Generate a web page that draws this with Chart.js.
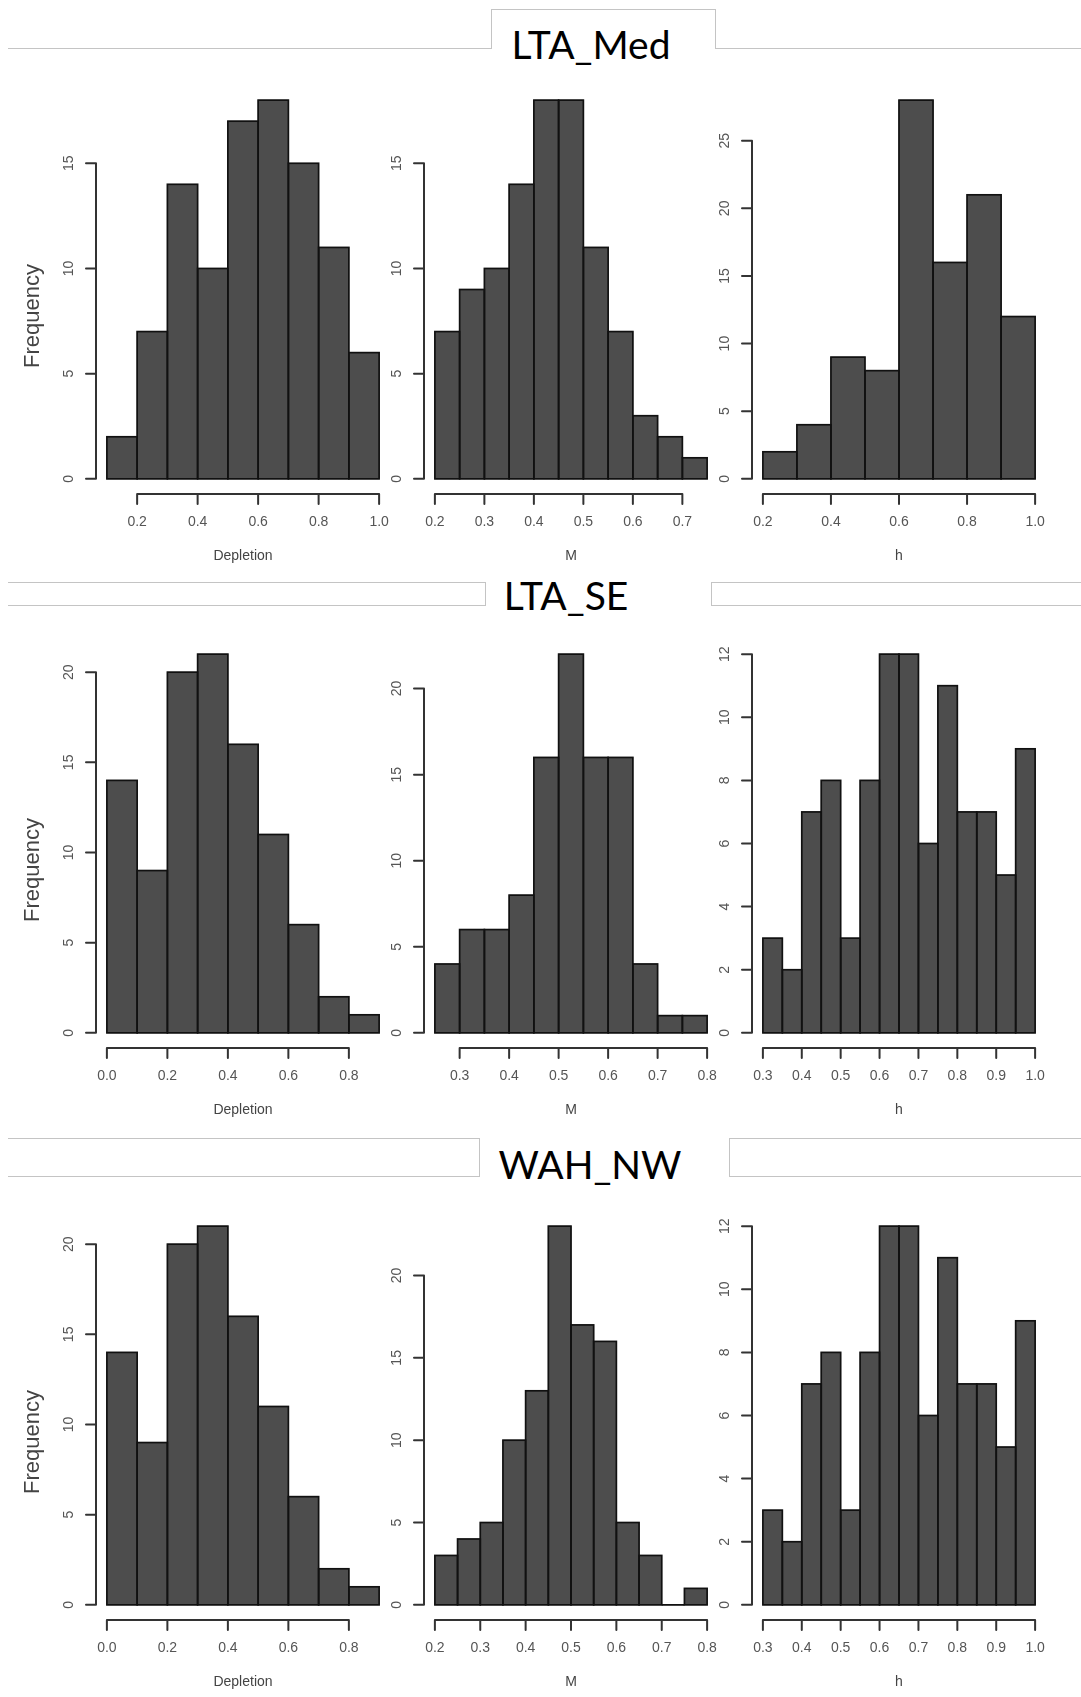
<!DOCTYPE html>
<html>
<head>
<meta charset="utf-8">
<title>Histograms</title>
<script src="https://cdn.jsdelivr.net/npm/chart.js@4.4.0/dist/chart.umd.min.js"></script>
<style>
	body { margin: 0; background: #fff; width: 1081px; height: 1697px; position: relative; overflow: hidden; }
	canvas { position: absolute; }
	.rule { position: absolute; box-sizing: border-box; border: 0 solid #c4c4c4; }
	.head { position: absolute; width: 400px; text-align: center; font-family: Lato, "Open Sans", sans-serif; font-size: 39px; line-height: 39px; color: #000; }
</style>
</head>
<body>

<!-- LTA_Med header (tab) -->
<div class="rule" style="left:8px;top:48px;width:484px;height:1px;border-top-width:1px"></div>
<div class="rule" style="left:491px;top:9px;width:225px;height:40px;border-top-width:1px;border-left-width:1px;border-right-width:1px"></div>
<div class="rule" style="left:715px;top:48px;width:366px;height:1px;border-top-width:1px"></div>
<div class="head" style="left:391px;top:25px">LTA_Med</div>

<!-- LTA_SE header -->
<div class="rule" style="left:8px;top:582px;width:478px;height:24px;border-top-width:1px;border-right-width:1px;border-bottom-width:1px"></div>
<div class="rule" style="left:711px;top:582px;width:370px;height:24px;border-top-width:1px;border-left-width:1px;border-bottom-width:1px"></div>
<div class="head" style="left:366px;top:576px">LTA_SE</div>

<!-- WAH_NW header -->
<div class="rule" style="left:8px;top:1138px;width:472px;height:39px;border-top-width:1px;border-right-width:1px;border-bottom-width:1px"></div>
<div class="rule" style="left:729px;top:1138px;width:352px;height:39px;border-top-width:1px;border-left-width:1px;border-bottom-width:1px"></div>
<div class="head" style="left:390px;top:1145px">WAH_NW</div>

<canvas id="medDep" width="400" height="510" style="left:0px;top:65px"></canvas>
<canvas id="medM" width="400" height="510" style="left:328px;top:65px"></canvas>
<canvas id="medH" width="400" height="510" style="left:656px;top:65px"></canvas>
<canvas id="seDep" width="400" height="510" style="left:0px;top:619px"></canvas>
<canvas id="seM" width="400" height="510" style="left:328px;top:619px"></canvas>
<canvas id="seH" width="400" height="510" style="left:656px;top:619px"></canvas>
<canvas id="nwDep" width="400" height="510" style="left:0px;top:1191px"></canvas>
<canvas id="nwM" width="400" height="510" style="left:328px;top:1191px"></canvas>
<canvas id="nwH" width="400" height="510" style="left:656px;top:1191px"></canvas>

<script>
// LTA_Med
var medDepEdges = [0.1, 0.2, 0.3, 0.4, 0.5, 0.6, 0.7, 0.8, 0.9, 1.0];
var medDepCounts = [2, 7, 14, 10, 17, 18, 15, 11, 6];
var medMEdges = [0.2, 0.25, 0.3, 0.35, 0.4, 0.45, 0.5, 0.55, 0.6, 0.65, 0.7, 0.75];
var medMCounts = [7, 9, 10, 14, 18, 18, 11, 7, 3, 2, 1];
var medHEdges = [0.2, 0.3, 0.4, 0.5, 0.6, 0.7, 0.8, 0.9, 1.0];
var medHCounts = [2, 4, 9, 8, 28, 16, 21, 12];

// LTA_SE
var seDepEdges = [0.0, 0.1, 0.2, 0.3, 0.4, 0.5, 0.6, 0.7, 0.8, 0.9];
var seDepCounts = [14, 9, 20, 21, 16, 11, 6, 2, 1];
var seMEdges = [0.25, 0.3, 0.35, 0.4, 0.45, 0.5, 0.55, 0.6, 0.65, 0.7, 0.75, 0.8];
var seMCounts = [4, 6, 6, 8, 16, 22, 16, 16, 4, 1, 1];
var seHEdges = [0.3, 0.35, 0.4, 0.45, 0.5, 0.55, 0.6, 0.65, 0.7, 0.75, 0.8, 0.85, 0.9, 0.95, 1.0];
var seHCounts = [3, 2, 7, 8, 3, 8, 12, 12, 6, 11, 7, 7, 5, 9];

// WAH_NW
var nwDepEdges = [0.0, 0.1, 0.2, 0.3, 0.4, 0.5, 0.6, 0.7, 0.8, 0.9];
var nwDepCounts = [14, 9, 20, 21, 16, 11, 6, 2, 1];
var nwMEdges = [0.2, 0.25, 0.3, 0.35, 0.4, 0.45, 0.5, 0.55, 0.6, 0.65, 0.7, 0.75, 0.8];
var nwMCounts = [3, 4, 5, 10, 13, 23, 17, 16, 5, 3, 0, 1];
var nwHEdges = [0.3, 0.35, 0.4, 0.45, 0.5, 0.55, 0.6, 0.65, 0.7, 0.75, 0.8, 0.85, 0.9, 0.95, 1.0];
var nwHCounts = [3, 2, 7, 8, 3, 8, 12, 12, 6, 11, 7, 7, 5, 9];

// tick labels
var medDepXTicks = [0.2, 0.4, 0.6, 0.8, 1.0];
var medMXTicks = [0.2, 0.3, 0.4, 0.5, 0.6, 0.7];
var medHXTicks = [0.2, 0.4, 0.6, 0.8, 1.0];
var seDepXTicks = [0.0, 0.2, 0.4, 0.6, 0.8];
var seMXTicks = [0.3, 0.4, 0.5, 0.6, 0.7, 0.8];
var hXTicks = [0.3, 0.4, 0.5, 0.6, 0.7, 0.8, 0.9, 1.0];
var nwMXTicks = [0.2, 0.3, 0.4, 0.5, 0.6, 0.7, 0.8];

var yTicks15 = [0, 5, 10, 15];
var yTicks20 = [0, 5, 10, 15, 20];
var yTicks25 = [0, 5, 10, 15, 20, 25];
var yTicks12 = [0, 2, 4, 6, 8, 10, 12];

var LABEL_FONT = "'Liberation Sans', Arial, sans-serif";

function makeHist(id, edges, counts, xTicks, yTicks, xTitle, yTitle) {
	var lo = edges[0];
	var hi = edges[edges.length - 1];
	var pad = (hi - lo) * 0.04;
	var top = Math.max.apply(null, counts);
	var points = counts.map(function (c, i) {
		return { x: (edges[i] + edges[i + 1]) / 2, y: c };
	});

	return new Chart(document.getElementById(id), {
		type: "bar",
		data: {
			datasets: [
				{
					data: points,
					backgroundColor: "#4d4d4d",
					borderWidth: 0,
					barPercentage: 1,
					categoryPercentage: 1,
				},
			],
		},
		options: {
			responsive: false,
			animation: false,
			devicePixelRatio: 1,
			layout: { padding: { left: 96, right: 10, top: 20, bottom: 81 } },
			plugins: { legend: { display: false }, tooltip: { enabled: false } },
			scales: {
				x: { type: "linear", min: lo - pad, max: hi + pad, offset: false, display: false },
				y: { type: "linear", min: -top * 0.04, max: top * 1.04, display: false },
			},
		},
		plugins: [
			{
				id: "rStyle",
				afterDatasetsDraw: function (chart) {
					// outline every bin like R's rect()
					var c = chart.ctx;
					c.save();
					c.strokeStyle = "#111";
					c.lineWidth = 1.7;
					chart.getDatasetMeta(0).data.forEach(function (bar) {
						var p = bar.getProps(["x", "y", "base", "width"], true);
						c.strokeRect(p.x - p.width / 2, p.y, p.width, p.base - p.y);
					});
					c.restore();
				},
				afterDraw: function (chart) {
					var c = chart.ctx;
					var xs = chart.scales.x;
					var ys = chart.scales.y;
					var a = chart.chartArea;
					c.save();
					c.strokeStyle = "#333";
					c.lineWidth = 2;
					c.lineCap = "round";
					c.beginPath();
					// y axis
					c.moveTo(a.left, ys.getPixelForValue(yTicks[0]));
					c.lineTo(a.left, ys.getPixelForValue(yTicks[yTicks.length - 1]));
					yTicks.forEach(function (v) {
						var py = ys.getPixelForValue(v);
						c.moveTo(a.left - 10, py);
						c.lineTo(a.left, py);
					});
					// x axis
					c.moveTo(xs.getPixelForValue(xTicks[0]), a.bottom);
					c.lineTo(xs.getPixelForValue(xTicks[xTicks.length - 1]), a.bottom);
					xTicks.forEach(function (v) {
						var px = xs.getPixelForValue(v);
						c.moveTo(px, a.bottom);
						c.lineTo(px, a.bottom + 10);
					});
					c.stroke();

					c.fillStyle = "#555";
					c.font = "14px " + LABEL_FONT;
					c.textAlign = "center";
					c.textBaseline = "middle";
					xTicks.forEach(function (v) {
						c.fillText(v.toFixed(1), xs.getPixelForValue(v), a.bottom + 28);
					});
					yTicks.forEach(function (v) {
						c.save();
						c.translate(a.left - 27, ys.getPixelForValue(v));
						c.rotate(-Math.PI / 2);
						c.fillText(String(v), 0, 0);
						c.restore();
					});

					c.fillStyle = "#444";
					c.fillText(xTitle, (a.left + a.right) / 2, a.bottom + 62);
					if (yTitle) {
						c.font = "22px " + LABEL_FONT;
						c.save();
						c.translate(a.left - 63, a.top + 231);
						c.rotate(-Math.PI / 2);
						c.fillText(yTitle, 0, 0);
						c.restore();
					}
					c.restore();
				},
			},
		],
	});
}

document.addEventListener("DOMContentLoaded", function () {
	makeHist("medDep", medDepEdges, medDepCounts, medDepXTicks, yTicks15, "Depletion", "Frequency");
	makeHist("medM", medMEdges, medMCounts, medMXTicks, yTicks15, "M", "");
	makeHist("medH", medHEdges, medHCounts, medHXTicks, yTicks25, "h", "");

	makeHist("seDep", seDepEdges, seDepCounts, seDepXTicks, yTicks20, "Depletion", "Frequency");
	makeHist("seM", seMEdges, seMCounts, seMXTicks, yTicks20, "M", "");
	makeHist("seH", seHEdges, seHCounts, hXTicks, yTicks12, "h", "");

	makeHist("nwDep", nwDepEdges, nwDepCounts, seDepXTicks, yTicks20, "Depletion", "Frequency");
	makeHist("nwM", nwMEdges, nwMCounts, nwMXTicks, yTicks20, "M", "");
	makeHist("nwH", nwHEdges, nwHCounts, hXTicks, yTicks12, "h", "");
});
</script>
</body>
</html>
